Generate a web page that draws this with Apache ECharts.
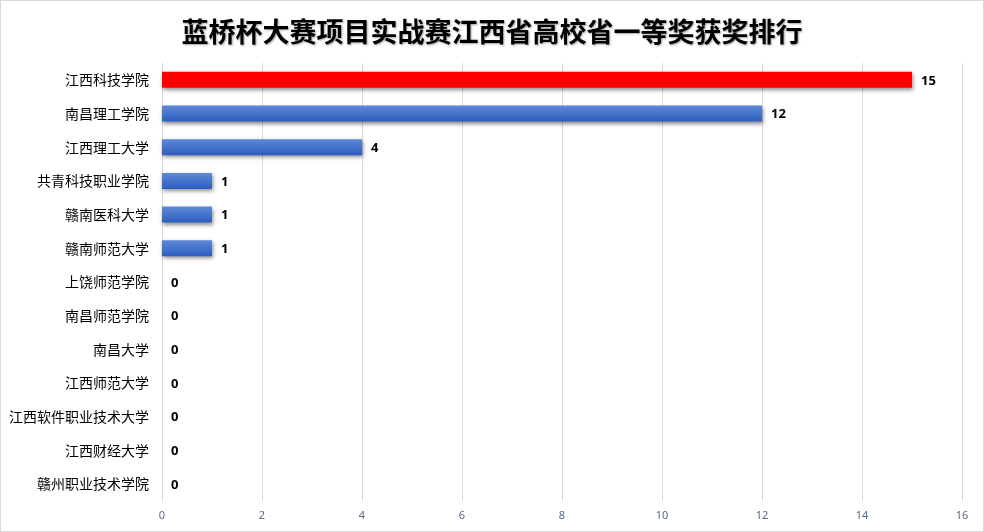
<!DOCTYPE html>
<html>
<head>
<meta charset="utf-8">
<script src="https://cdn.jsdelivr.net/npm/echarts@6/dist/echarts.min.js"></script>
<style>
html,body{margin:0;padding:0;background:#fff;}
#main{width:982px;height:530px;border:1px solid #d9d9d9;}
</style>
</head>
<body>
<div id="main"></div>
<script>
const titleText = '蓝桥杯大赛项目实战赛江西省高校省一等奖获奖排行';
const categories = ['江西科技学院','南昌理工学院','江西理工大学','共青科技职业学院','赣南医科大学','赣南师范大学','上饶师范学院','南昌师范学院','南昌大学','江西师范大学','江西软件职业技术大学','江西财经大学','赣州职业技术学院'];
const values = [15,12,4,1,1,1,0,0,0,0,0,0,0];
const highlightIndex = 0;

const chart = echarts.init(document.getElementById('main'));
const blueGrad = new echarts.graphic.LinearGradient(0,0,0,1,[
  {offset:0,color:'#5E8AD8'},
  {offset:1,color:'#2E5DBE'}
]);
chart.setOption({
  animation:false,
  title:{
    text:titleText,
    left:'center',
    top:12,
    textStyle:{
      fontFamily:'Noto Sans CJK SC',
      fontSize:27,
      fontWeight:'bold',
      color:'#000',
      textShadowColor:'rgba(0,0,0,0.35)',
      textShadowBlur:2,
      textShadowOffsetX:1,
      textShadowOffsetY:1
    }
  },
  grid:{left:161,right:21,top:62,bottom:30,containLabel:false},
  xAxis:{
    type:'value',
    min:0,max:16,interval:2,
    axisLine:{show:false},
    axisTick:{show:false},
    splitLine:{lineStyle:{color:'#d9d9d9',width:1}},
    axisLabel:{color:'#5a6a8a',fontSize:11,fontFamily:'Noto Sans',margin:9}
  },
  yAxis:{
    type:'category',
    inverse:true,
    data:categories,
    axisLine:{show:true,lineStyle:{color:'#d9d9d9'}},
    axisTick:{show:false},
    axisLabel:{color:'#000',fontSize:14,fontFamily:'Noto Sans CJK SC',margin:13}
  },
  series:[{
    type:'bar',
    data:values.map((v,i)=>({
      value:v,
      itemStyle:{color: i===highlightIndex ? '#FF0000' : blueGrad}
    })),
    barWidth:16,
    itemStyle:{
      shadowColor:'rgba(0,0,0,0.45)',
      shadowBlur:4,
      shadowOffsetX:1,
      shadowOffsetY:2
    },
    label:{
      show:true,
      position:'right',
      distance:9,
      offset:[0,1],
      color:'#000',
      fontWeight:'bold',
      fontSize:13,
      fontFamily:'Noto Sans'
    }
  }]
});
</script>
</body>
</html>
